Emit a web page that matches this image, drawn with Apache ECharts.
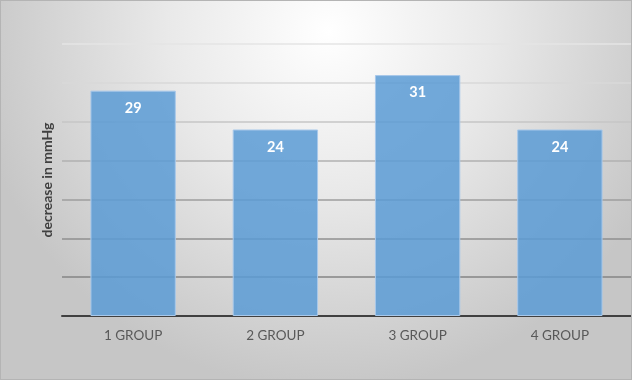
<!DOCTYPE html>
<html>
<head>
<meta charset="utf-8">
<script src="https://cdn.jsdelivr.net/npm/echarts@6/dist/echarts.min.js"></script>
<style>
html,body{margin:0;padding:0;}
#c{width:632px;height:380px;box-sizing:border-box;border:1px solid #b4b4b4;}
</style>
</head>
<body>
<div id="c"></div>
<script>
const categories = ['1 GROUP', '2 GROUP', '3 GROUP', '4 GROUP'];
const values = [29, 24, 31, 24];
const yAxisName = 'decrease in mmHg';

const chart = echarts.init(document.getElementById('c'));
chart.setOption({
  animation: false,
  backgroundColor: {
    type: 'radial', x: 0.52, y: 0.08, r: 0.95,
    colorStops: [
      {offset: 0, color: '#ffffff'},
      {offset: 0.45, color: '#e9e9e9'},
      {offset: 1, color: '#c6c6c6'}
    ]
  },
  grid: {left: 61, right: 0, top: 43, bottom: 63},
  xAxis: {
    type: 'category',
    data: categories,
    axisTick: {show: false},
    axisLine: {lineStyle: {color: '#404040', width: 2}},
    axisLabel: {color: '#595959', fontFamily: 'Lato', fontSize: 13.5, margin: 13}
  },
  yAxis: {
    type: 'value',
    min: 0, max: 35, interval: 5,
    name: yAxisName,
    nameLocation: 'middle',
    nameGap: 8,
    nameTextStyle: {color: '#404040', fontWeight: 'bold', fontFamily: 'Lato', fontSize: 14},
    axisLabel: {show: false},
    axisLine: {show: false},
    axisTick: {show: false},
    splitLine: {lineStyle: {width: 1.5, color: ['#404040', '#858585', '#8f8f8f', '#9e9e9e', '#b0b0b0', '#c6c6c6', '#d8d8d8', '#e4e4e4']}}
  },
  series: [{
    type: 'bar',
    data: values,
    barWidth: '60%',
    itemStyle: {color: 'rgba(91,155,213,0.85)', borderColor: '#a8c8ea', borderWidth: 1},
    label: {
      show: true, position: 'insideTop', distance: 10,
      color: '#ffffff', fontWeight: 'bold', fontFamily: 'Lato', fontSize: 14.5
    }
  }]
});
</script>
</body>
</html>
